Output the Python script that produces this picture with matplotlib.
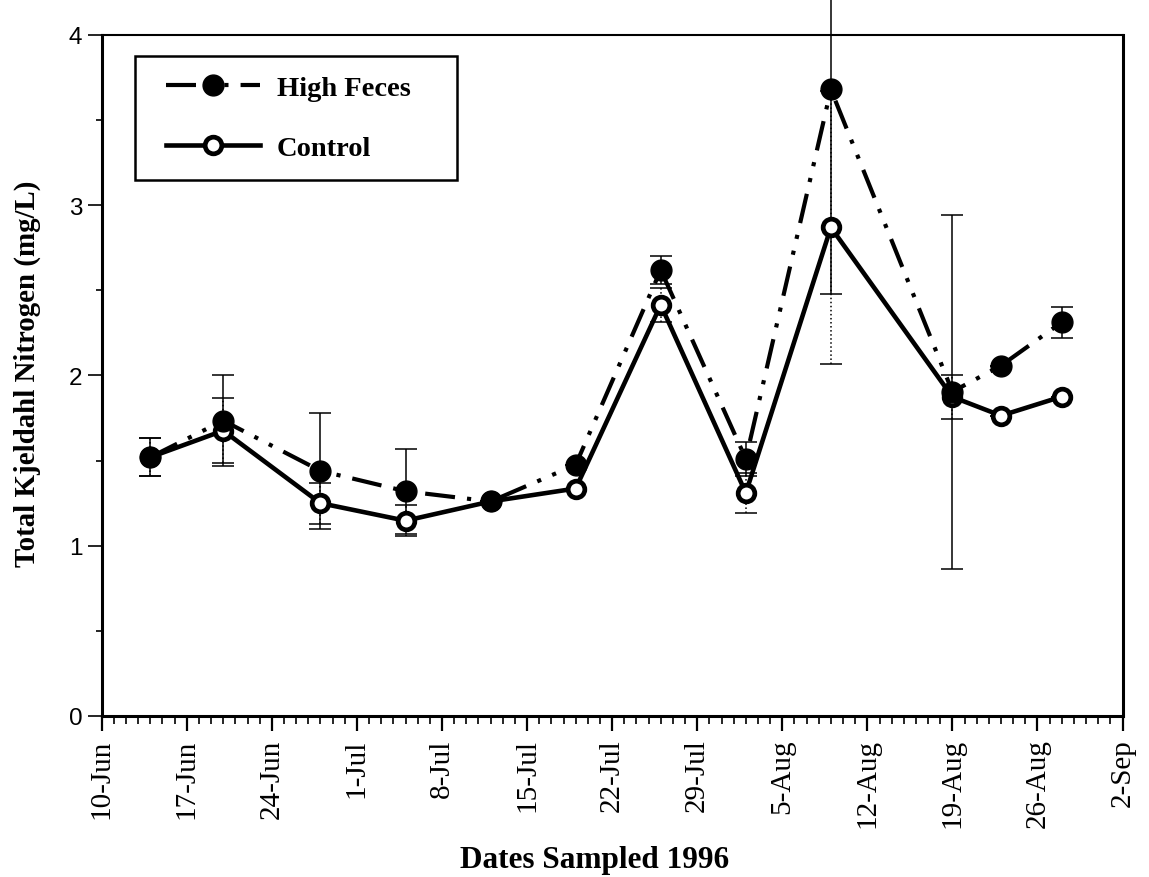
import matplotlib
matplotlib.use('Agg')
import matplotlib.pyplot as plt
import matplotlib.dates as mdates
import matplotlib.ticker as mticker
from matplotlib.lines import Line2D
from matplotlib.legend_handler import HandlerLine2D
from datetime import date

# sampling dates (1996) and Total Kjeldahl Nitrogen, mg/L
sample_dates = [date(1996, 6, 14), date(1996, 6, 20), date(1996, 6, 28), date(1996, 7, 5),
                date(1996, 7, 12), date(1996, 7, 19), date(1996, 7, 26), date(1996, 8, 2),
                date(1996, 8, 9), date(1996, 8, 19), date(1996, 8, 23), date(1996, 8, 28)]

high_feces = [1.52, 1.735, 1.44, 1.32, 1.26, 1.475, 2.62, 1.51, 3.68, 1.905, 2.058, 2.313]
high_feces_err = [0.11, 0.265, 0.34, 0.25, 0.0, 0.0, 0.08, 0.10, 1.20, 1.04, 0.0, 0.09]

control = [1.52, 1.676, 1.25, 1.147, 1.26, 1.336, 2.415, 1.31, 2.87, 1.874, 1.764, 1.876]
control_err = [0.11, 0.19, 0.12, 0.09, 0.0, 0.0, 0.10, 0.12, 0.80, 0.13, 0.0, 0.0]

y_ticks = [0, 1, 2, 3, 4]
y_ticklabels = ['0', '1', '2', '3', '4']

plt.rcParams['font.family'] = 'Liberation Serif'

fig = plt.figure(figsize=(11.49, 8.78), dpi=100)
ax = fig.add_axes([0.0885, 0.1834, 0.8885, 0.7756])

# dash - dot - dot pattern (units of linewidth)
dash_dot_dot = (0, (7.2, 2.9, 1.0, 2.9, 1.0, 2.9))

# error bars first so markers sit on top of them
eb_c = ax.errorbar(sample_dates, control, yerr=control_err, fmt='none', ecolor='k',
                   elinewidth=1.1, capsize=8, capthick=1.1, zorder=2)
for lc in eb_c[2]:
    lc.set_linestyle(':')
eb_h = ax.errorbar(sample_dates, high_feces, yerr=high_feces_err, fmt='none', ecolor='k',
                   elinewidth=1.1, capsize=8, capthick=1.1, zorder=2)
# the big 9-Aug bar runs off the top of the frame
for part in list(eb_h[1]) + list(eb_h[2]):
    part.set_clip_on(False)

c_line, = ax.plot(sample_dates, control, color='k', lw=3.3, marker='o', ms=12,
                  mfc='white', mec='k', mew=3.4, zorder=3, label='Control')
h_line, = ax.plot(sample_dates, high_feces, color='k', lw=3.0, ls=dash_dot_dot,
                  marker='o', ms=15, mfc='k', mec='k', zorder=4, label='High Feces')

ax.set_xlim(date(1996, 6, 10), date(1996, 9, 2))
ax.set_ylim(0, 4)

ax.xaxis.set_major_locator(mdates.WeekdayLocator(byweekday=mdates.MO))
ax.xaxis.set_minor_locator(mdates.DayLocator())
ax.xaxis.set_major_formatter(mticker.FuncFormatter(
    lambda v, pos: '{}-{}'.format(mdates.num2date(v).day, mdates.num2date(v).strftime('%b'))))

ax.set_yticks(y_ticks)
ax.set_yticklabels(y_ticklabels, fontfamily='Liberation Sans', fontsize=17.5)
ax.yaxis.set_minor_locator(mticker.MultipleLocator(0.5))

ax.tick_params(axis='x', which='major', direction='out', length=11, width=1.6, pad=5,
               labelsize=21, labelrotation=90)
ax.tick_params(axis='x', which='minor', direction='out', length=5.5, width=1.2)
ax.tick_params(axis='y', which='major', direction='out', length=10, width=1.2, pad=4)
ax.tick_params(axis='y', which='minor', direction='out', length=4, width=1.2)

for side in ['left', 'bottom', 'right']:
    ax.spines[side].set_linewidth(2.2)
ax.spines['top'].set_linewidth(1.5)

ax.set_xlabel('Dates Sampled 1996', fontsize=22.5, fontweight='bold')
ax.xaxis.set_label_coords(0.483, -0.19)
ax.set_ylabel('Total Kjeldahl Nitrogen (mg/L)', fontsize=20.8, fontweight='bold')
ax.yaxis.set_label_coords(-0.059, 0.504)

# legend box stretched to the right like the original
leg_w = 0.3154
leg_h = 0.18
leg = ax.legend(handles=[h_line, c_line], loc='upper left',
                bbox_to_anchor=(0.0326, 0.969 - leg_h, leg_w, leg_h), mode='expand',
                borderaxespad=0, fancybox=False, edgecolor='k', framealpha=1,
                numpoints=1, handlelength=3.7, handletextpad=0.6, labelspacing=1.18,
                borderpad=0.68, handler_map={Line2D: HandlerLine2D(xpad=0.4)},
                prop={'family': 'Liberation Serif', 'weight': 'bold', 'size': 20.5})
leg.get_frame().set_linewidth(1.8)

fig.savefig('out.png', dpi=100)
